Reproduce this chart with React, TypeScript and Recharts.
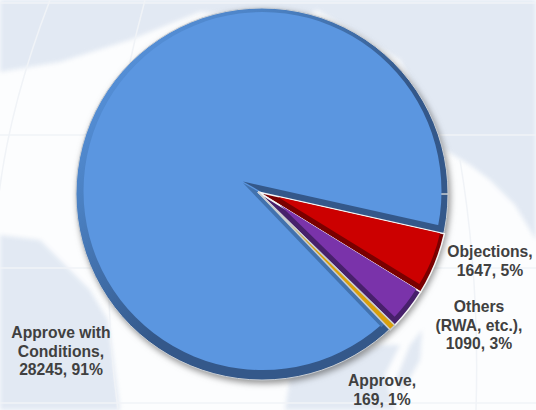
import { PieChart, Pie, Sector } from 'recharts'

const categories = ['Approve with Conditions', 'Objections', 'Others (RWA, etc.)', 'Approve']
const counts = [28245, 1647, 1090, 169]
const percents = [91, 5, 3, 1]
const labelLines = [['Approve with', 'Conditions,'], ['Objections,'], ['Others', '(RWA, etc.),'], ['Approve,']]
const labelSpots = [
  { x: 61, y: 338 },
  { x: 490, y: 257 },
  { x: 479, y: 312 },
  { x: 382, y: 386 }
]
const sliceLooks = [
  { face: '#5b96e0', edge: '#34588a', dx: 0, dy: 0, trim: 0 },
  { face: '#cc0000', edge: '#7a0000', dx: 20, dy: 5, trim: 25 },
  { face: '#7a33aa', edge: '#47206b', dx: 22, dy: 13, trim: 31 },
  { face: '#d9a00c', edge: '#d9a00c', dx: 0, dy: 0, trim: 0 }
]

const data = categories.map((name, i) => ({ name, value: counts[i], percent: percents[i] }))

function SliceShape(props: any) {
  const { cx, cy, outerRadius, startAngle, endAngle, index } = props
  const look = sliceLooks[index]

  if (index === 0) {
    // the big slice: rim, offset face, then the bevel around the notch
    const notchStart = endAngle + 360
    const notchMid = (notchStart + startAngle) / 2
    return (
      <g>
        <defs>
          <linearGradient id="rim" x1="0" y1="0" x2="1" y2="1">
            <stop offset="0%" stopColor="#5f9fee" />
            <stop offset="28%" stopColor="#4a7fc0" />
            <stop offset="55%" stopColor="#34588a" />
            <stop offset="100%" stopColor="#34588a" />
          </linearGradient>
        </defs>
        <Sector
          cx={cx + 4}
          cy={cy + 2}
          innerRadius={0}
          outerRadius={outerRadius - 5}
          startAngle={0}
          endAngle={359.99}
          fill="url(#rim)"
          stroke="#c9ced4"
          strokeWidth={1}
          style={{ filter: 'drop-shadow(2px 3px 3px rgba(60,60,60,0.55))' }}
        />
        <Sector
          cx={cx + 4.5}
          cy={cy - 1}
          innerRadius={0}
          outerRadius={outerRadius - 12}
          startAngle={0}
          endAngle={359.99}
          fill={look.face}
        />
        <Sector cx={cx - 15} cy={cy - 10.5} innerRadius={0} outerRadius={outerRadius + 12} startAngle={notchStart} endAngle={notchMid} fill={look.edge} />
        <Sector cx={cx - 15} cy={cy - 9} innerRadius={0} outerRadius={outerRadius + 9} startAngle={notchMid} endAngle={startAngle} fill="#4272ae" />
      </g>
    )
  }

  return (
    <g>
      <Sector cx={cx} cy={cy} innerRadius={0} outerRadius={outerRadius} startAngle={startAngle} endAngle={endAngle} fill={look.edge} stroke={index === 3 ? '#c8ccd0' : '#f6f6f6'} strokeWidth={1.5} />
      {index < 3 && (
        <Sector cx={cx + look.dx} cy={cy + look.dy} innerRadius={0} outerRadius={outerRadius - look.trim} startAngle={startAngle} endAngle={endAngle} fill={look.face} />
      )}
    </g>
  )
}

function SliceLabel({ index }: any) {
  const spot = labelSpots[index]
  const lines = [...labelLines[index], `${counts[index]}, ${percents[index]}%`]
  return (
    <text x={spot.x} y={spot.y} textAnchor="middle" fontFamily="Liberation Sans" fontWeight="bold" fontSize={15.7} fill="#404040">
      {lines.map((line, i) => (
        <tspan key={line} x={spot.x} dy={i === 0 ? 0 : 18.5}>{line}</tspan>
      ))}
    </text>
  )
}

function MapBackdrop() {
  return (
    <svg width={536} height={410} style={{ position: 'absolute', left: 0, top: 0 }}>
      <rect width={536} height={410} fill="#fcfdfe" />
      <g fill="#e2e9f3" style={{ filter: 'blur(2px)' }}>
        <path d="M0 0 L335 0 L300 20 L200 12 L130 40 L60 62 L0 72 Z" />
        <path d="M300 0 L536 0 L536 240 L515 205 L490 180 L470 165 L445 150 L400 60 Z" />
        <path d="M0 235 L40 240 L90 290 L108 320 L120 410 L0 410 Z" />
        <path d="M290 378 L380 345 L400 345 L385 375 L395 410 L285 410 Z" />
        <path d="M410 345 L422 330 L420 360 L402 392 L396 380 Z" />
      </g>
      <g stroke="#f0f3f7" strokeWidth={1.5} fill="none">
        <path d="M0 3 H536" />
        <path d="M0 135 H536" />
        <path d="M0 268 H536" />
        <path d="M0 403 H536" />
        <path d="M50 0 Q0 130 -5 240" />
        <path d="M145 0 Q90 200 118 410" />
        <path d="M460 160 Q480 280 476 410" />
      </g>
    </svg>
  )
}

export default function App() {
  return (
    <div style={{ position: 'absolute', left: 0, top: 0, width: 536, height: 410, overflow: 'hidden' }}>
      <MapBackdrop />
      <div style={{ position: 'absolute', left: 0, top: 0 }}>
        <PieChart width={536} height={410} margin={{ top: 0, right: 0, bottom: 0, left: 0 }}>
          <Pie
            data={data}
            dataKey="value"
            nameKey="name"
            cx={258}
            cy={192}
            innerRadius={0}
            outerRadius={191}
            startAngle={-46.2}
            endAngle={-406.2}
            stroke="none"
            shape={SliceShape}
            label={SliceLabel}
            labelLine={false}
            isAnimationActive={false}
          />
        </PieChart>
      </div>
    </div>
  )
}
